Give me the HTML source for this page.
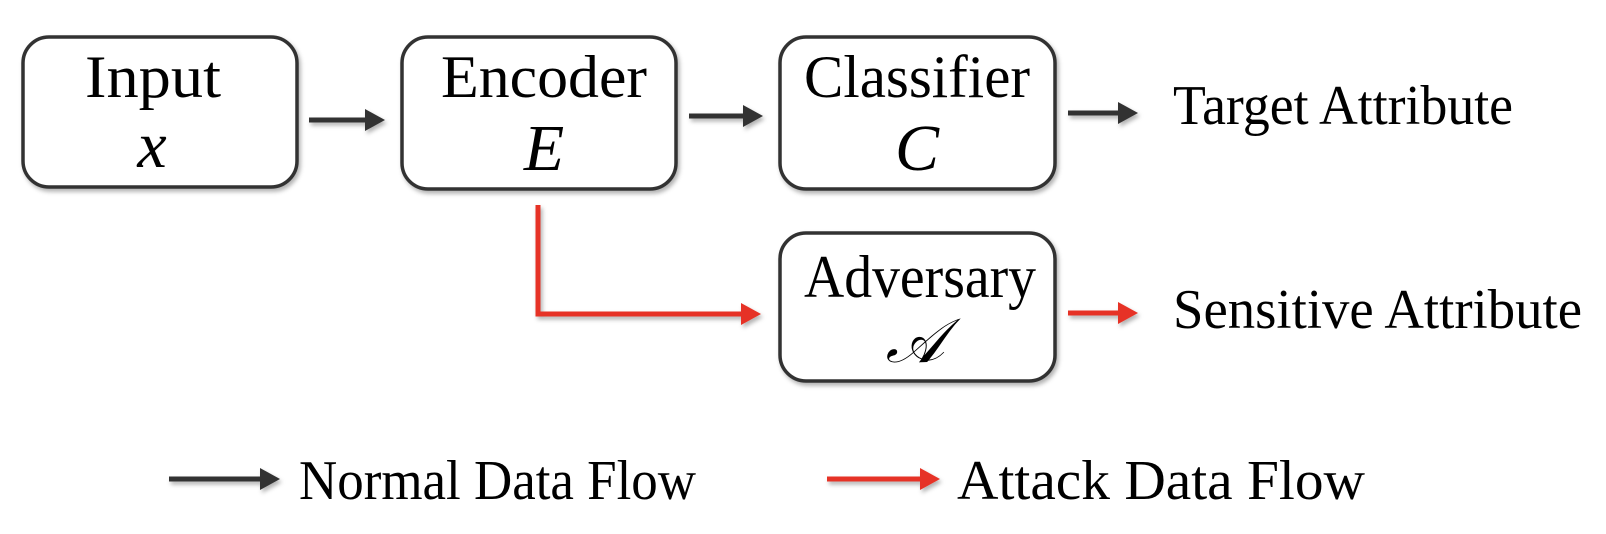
<!DOCTYPE html>
<html><head><meta charset="utf-8"><style>
html,body{margin:0;padding:0;background:#fff;}
svg{display:block;}
text{font-family:"Liberation Serif","DejaVu Serif",serif;fill:#000;}
</style></head><body>
<svg width="1606" height="534" viewBox="0 0 1606 534" xmlns="http://www.w3.org/2000/svg">
<defs>
<filter id="sh" x="-10%" y="-10%" width="130%" height="130%"><feDropShadow dx="2" dy="3" stdDeviation="2" flood-color="#000" flood-opacity="0.3"/></filter>
<marker id="ab" markerWidth="5" markerHeight="5" refX="3" refY="2.5" orient="auto" markerUnits="strokeWidth"><path d="M0,0.3 L4,2.5 L0,4.7 z" fill="#333"/></marker>
<marker id="ar" markerWidth="5" markerHeight="5" refX="3" refY="2.5" orient="auto" markerUnits="strokeWidth"><path d="M0,0.3 L4,2.5 L0,4.7 z" fill="#e63325"/></marker>
</defs>
<g fill="#fff" stroke="#333" stroke-width="3.5" filter="url(#sh)">
<rect x="23" y="37" width="274" height="150" rx="26"/>
<rect x="402" y="37" width="274" height="152" rx="26"/>
<rect x="780" y="37" width="275" height="152" rx="26"/>
<rect x="780" y="233" width="275" height="148" rx="26"/>
</g>
<g stroke-width="5" fill="none" filter="url(#sh)">
<line x1="309" y1="120" x2="380" y2="120" stroke="#333" marker-end="url(#ab)"/>
<line x1="689" y1="116" x2="758" y2="116" stroke="#333" marker-end="url(#ab)"/>
<line x1="1068" y1="113" x2="1133" y2="113" stroke="#333" marker-end="url(#ab)"/>
<polyline points="538,205 538,314 756,314" stroke="#e63325" marker-end="url(#ar)"/>
<line x1="1068" y1="313" x2="1133" y2="313" stroke="#e63325" marker-end="url(#ar)"/>
<line x1="169" y1="479" x2="275" y2="479" stroke="#333" marker-end="url(#ab)"/>
<line x1="827" y1="479" x2="935" y2="479" stroke="#e63325" marker-end="url(#ar)"/>
</g>
<g font-size="60" text-anchor="middle">
<text x="153" y="97" textLength="136" lengthAdjust="spacingAndGlyphs">Input</text>
<text x="152" y="167" font-style="italic" font-size="66">x</text>
<text x="544" y="97" textLength="206" lengthAdjust="spacingAndGlyphs">Encoder</text>
<text x="544" y="170" font-style="italic" font-size="66">E</text>
<text x="917" y="97" textLength="226" lengthAdjust="spacingAndGlyphs">Classifier</text>
<text x="917" y="170" font-style="italic" font-size="66">C</text>
<text x="920" y="297" textLength="232" lengthAdjust="spacingAndGlyphs">Adversary</text>
<text x="915" y="362" font-style="italic" font-size="62">𝒜</text>
</g>
<g font-size="56">
<text x="1173" y="124" textLength="340" lengthAdjust="spacingAndGlyphs">Target Attribute</text>
<text x="1173" y="328" textLength="409" lengthAdjust="spacingAndGlyphs">Sensitive Attribute</text>
<text x="299" y="499" textLength="397" lengthAdjust="spacingAndGlyphs">Normal Data Flow</text>
<text x="957" y="499" textLength="408" lengthAdjust="spacingAndGlyphs">Attack Data Flow</text>
</g>
</svg>
</body></html>
